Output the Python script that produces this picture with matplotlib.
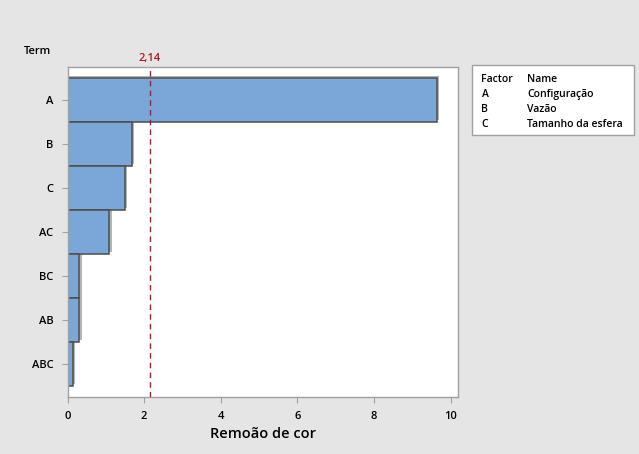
import matplotlib
matplotlib.use('Agg')
import matplotlib.pyplot as plt
import matplotlib.patches as mpatches
import numpy as np

plt.rcParams['font.family'] = ['Open Sans', 'DejaVu Sans']

# data
terms = ['A', 'B', 'C', 'AC', 'BC', 'AB', 'ABC']
effects = [9.64, 1.68, 1.50, 1.09, 0.31, 0.31, 0.14]
refLine = 2.14
factors = ['A', 'B', 'C']
names = ['Configuração', 'Vazão', 'Tamanho da esfera']

W, H = 639, 454
fig = plt.figure(figsize=(W/100, H/100), dpi=100)
fig.patch.set_facecolor('#E5E5E5')

ax = fig.add_axes([67.5/W, 1-396.7/H, (458-67.5)/W, (396.7-66.7)/H])
ax.set_facecolor('white')

y = np.arange(len(terms))
# shadow
ax.barh(y - 0.04, np.array(effects) + 0.06, height=1.0, color='#B4B4B4',
        edgecolor='none', zorder=1)
ax.barh(y, effects, height=1.0, color='#7BA7D8', edgecolor='#4D4D4D',
        linewidth=1.1, zorder=2)
ax.axvline(refLine, color='#B2182B', ls=(0, (4, 3)), lw=1, zorder=3)

ax.set_ylim(len(terms) - 0.25, -0.75)
ax.set_xlim(0, 10.19)
ax.set_yticks(y)
ax.set_yticklabels(terms, fontsize=8, fontweight='semibold')
ax.set_xticks([0, 2, 4, 6, 8, 10])
ax.set_xticklabels(['0', '2', '4', '6', '8', '10'], fontsize=8, fontweight='semibold')
ax.tick_params(axis='both', length=4, color='#A0A0A0', pad=6)
for s in ax.spines.values():
    s.set_color('#A0A0A0')
    s.set_linewidth(1)
ax.set_xlabel('Remoão de cor', fontsize=10.5, fontweight='semibold', labelpad=4)

fig.text(38/W, 1-52/H, 'Term', fontsize=8, fontweight='semibold', va='center', ha='center')
ax.text(refLine, -0.8, '2,14', color='#B2182B', fontsize=8, fontweight='semibold',
        ha='center', va='bottom', transform=ax.transData)

# legend box
lx0, ly0, lx1, ly1 = 472, 65, 634, 135
fig.add_artist(mpatches.Rectangle((lx0/W, 1-ly1/H), (lx1-lx0)/W, (ly1-ly0)/H,
                                  transform=fig.transFigure, facecolor='white',
                                  edgecolor='#A0A0A0', lw=1))
rows = [('Factor', 'Name')] + list(zip(factors, names))
for i, (f, n) in enumerate(rows):
    yy = 1 - (79 + i*15.3)/H
    fig.text(481.5/W, yy, f, fontsize=7.5, fontweight='semibold', va='center')
    fig.text(527/W, yy, n, fontsize=7.5, fontweight='semibold', va='center')

fig.savefig('out.png', dpi=100, facecolor=fig.get_facecolor())
